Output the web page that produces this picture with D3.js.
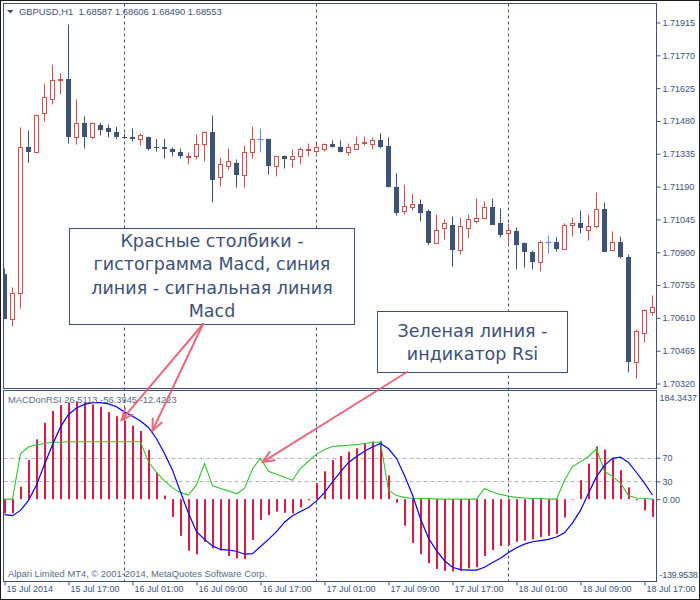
<!DOCTYPE html>
<html><head><meta charset="utf-8">
<script src="https://cdn.jsdelivr.net/npm/d3@7"></script>
<style>body{margin:0;background:#fff;} svg{display:block}</style>
</head><body><svg id="chart" width="700" height="600"></svg>
<script>
// ---------- DATA ----------
const symbolHeader = "GBPUSD,H1  1.68587 1.68606 1.68490 1.68553";
const indicatorHeader = "MACDonRSI 26.5113 -56.3945 -12.4223";
const copyrightText = "Alpari Limited MT4, © 2001-2014, MetaQuotes Software Corp.";

const timeTickIndex = [0, 8, 16, 24, 32, 40, 48, 56, 64, 72, 80];
const timeTickLabels = ["15 Jul 2014", "15 Jul 17:00", "16 Jul 01:00", "16 Jul 09:00", "16 Jul 17:00",
  "17 Jul 01:00", "17 Jul 09:00", "17 Jul 17:00", "18 Jul 01:00", "18 Jul 09:00", "18 Jul 17:00"];
const daySeparatorIndex = [15, 39, 63];

const priceTicks = [1.70320, 1.70465, 1.70610, 1.70755, 1.70900, 1.71045, 1.71190, 1.71335, 1.71480, 1.71625, 1.71770, 1.71915];
const indTicks = [184.3437, 70, 30, 0, -139.9538];
const indTickLabels = ["184.3437", "70", "30", "0.00", "-139.9538"];
const indLevels = [70, 30];

const open = [
  1.70806,1.70607,1.70722,1.71367,1.71341,1.71513,1.71579,1.71659,1.71667,1.71407,
  1.71469,1.71407,1.71464,1.71447,1.71433,1.71411,1.71411,1.71400,1.71411,1.71367,
  1.71367,1.71358,1.71345,1.71321,1.71327,1.71376,1.71433,1.71231,1.71283,1.71296,
  1.71243,1.71341,1.71402,1.71402,1.71283,1.71323,1.71314,1.71323,1.71352,1.71349,
  1.71358,1.71380,1.71367,1.71345,1.71358,1.71382,1.71380,1.71394,1.71371,1.71186,
  1.71084,1.71102,1.71115,1.71080,1.70939,1.71005,1.71022,1.70908,1.71009,1.71040,
  1.71053,1.71102,1.71027,1.70983,1.70992,1.70939,1.70903,1.70855,1.70947,1.70947,
  1.70916,1.71022,1.71027,1.71000,1.71014,1.71089,1.70912,1.70943,1.70881,1.70413,
  1.70545,1.70638];
const high = [
  1.70828,1.70744,1.71451,1.71438,1.71508,1.71645,1.71729,1.71690,1.71906,1.71575,
  1.71500,1.71473,1.71473,1.71464,1.71455,1.71425,1.71447,1.71425,1.71411,1.71400,
  1.71400,1.71363,1.71358,1.71341,1.71420,1.71433,1.71504,1.71318,1.71358,1.71310,
  1.71371,1.71455,1.71447,1.71402,1.71323,1.71327,1.71354,1.71363,1.71380,1.71380,
  1.71380,1.71394,1.71394,1.71380,1.71411,1.71411,1.71407,1.71425,1.71407,1.71248,
  1.71199,1.71159,1.71133,1.71089,1.71066,1.71045,1.71058,1.71053,1.71066,1.71137,
  1.71124,1.71137,1.71093,1.71027,1.71009,1.70943,1.70908,1.70952,1.70974,1.70965,
  1.71027,1.71053,1.71084,1.71066,1.71164,1.71120,1.70992,1.70969,1.70890,1.70559,
  1.70647,1.70709];
const low = [
  1.70607,1.70572,1.70651,1.71296,1.71336,1.71478,1.71553,1.71597,1.71380,1.71376,
  1.71358,1.71400,1.71416,1.71407,1.71400,1.71400,1.71389,1.71371,1.71349,1.71345,
  1.71314,1.71323,1.71314,1.71288,1.71310,1.71301,1.71120,1.71190,1.71265,1.71186,
  1.71186,1.71314,1.71341,1.71243,1.71235,1.71270,1.71274,1.71288,1.71323,1.71332,
  1.71345,1.71363,1.71341,1.71327,1.71354,1.71371,1.71354,1.71358,1.71186,1.71062,
  1.71066,1.71084,1.71036,1.70930,1.70939,1.70956,1.70837,1.70890,1.70961,1.71027,
  1.71049,1.71022,1.70965,1.70939,1.70824,1.70832,1.70824,1.70815,1.70894,1.70903,
  1.70912,1.70969,1.70983,1.70952,1.71005,1.70903,1.70908,1.70872,1.70369,1.70342,
  1.70501,1.70620];
const close = [
  1.70607,1.70722,1.71363,1.71341,1.71508,1.71584,1.71659,1.71667,1.71411,1.71469,
  1.71407,1.71469,1.71442,1.71429,1.71407,1.71407,1.71400,1.71420,1.71358,1.71363,
  1.71354,1.71341,1.71327,1.71325,1.71376,1.71433,1.71221,1.71288,1.71301,1.71243,
  1.71345,1.71402,1.71402,1.71283,1.71323,1.71314,1.71327,1.71354,1.71356,1.71367,
  1.71380,1.71367,1.71345,1.71363,1.71380,1.71387,1.71394,1.71367,1.71186,1.71075,
  1.71106,1.71111,1.71075,1.70939,1.71000,1.71027,1.70912,1.71014,1.71045,1.71053,
  1.71102,1.71022,1.70978,1.70996,1.70934,1.70903,1.70855,1.70947,1.70947,1.70916,
  1.71022,1.71031,1.71005,1.71018,1.71089,1.70903,1.70947,1.70877,1.70413,1.70554,
  1.70643,1.70660];

const macdHist = [
  -24,-24,21,66,101,129,149,159,163,165,
  163,160,156,147,140,133,124,115,83,45,
  6,-30,-62,-87,-93,-72,-83,-87,-96,-100,
  -101,-69,-35,-27,-21,-23,-24,-14,-2,27,
  47,66,73,80,86,94,97,98,40,-6,
  -45,-74,-93,-108,-118,-121,-122,-121,-117,-115,
  -96,-86,-79,-78,-72,-70,-68,-64,-62,-59,
  -31,-1,32,60,89,84,70,49,20,-2,
  -19,-30];
const macdSignal = [
  -26,-28,-19,-2,24,59,92,122,143,154,
  160,163,163,161,156,147,140,132,121,102,
  77,49,12,-24,-55,-68,-79,-85,-86,-88,
  -93,-92,-80,-68,-55,-39,-28,-21,-14,-3,
  11,29,46,62,72,81,88,94,85,69,
  40,7,-33,-66,-87,-104,-115,-119,-120,-120,
  -115,-107,-100,-90,-82,-76,-72,-70,-68,-64,
  -57,-40,-19,10,38,57,69,71,62,45,
  27,7];
const rsiLine = [
  0,0,77,88,92,94,96,96,97,97,
  97,97,97,97,97,97,97,97,63,45,
  31,19,11,7,24,60,23,18,14,9,
  18,51,69,47,42,37,32,52,64,76,
  84,89,90,91,92,94,96,96,15,6,
  3,1,1,1,0,0,0,0,0,0,
  18,12,8,5,3,2,1,1,0,0,
  32,55,63,72,85,47,38,27,6,2,
  1,0];

const noteMacd = ["Красные столбики -", "гистограмма Macd, синия", "линия - сигнальная линия", "Macd"];
const noteRsi = ["Зеленая линия -", "индикатор Rsi"];

// ---------- STYLE / LAYOUT ----------
const C = {
  dark: "#3d5278", red: "#d64d4d", doji: "#5b8ef0", text: "#3c5179",
  hist: "#e8173f", signal: "#0000ff", rsi: "#2ec52e", level: "#b4b4b4",
  arrow: "#e85a6e"
};
const axisFont = "'Liberation Sans', Arial, sans-serif";
const axisSize = "9px";
const L = { left: 3.5, right: 656.5, mainTop: 3.5, mainBottom: 388.5, indTop: 390.5, indBottom: 581.5 };

const svg = d3.select("#chart");
svg.append("rect").attr("x", 0).attr("y", 0).attr("width", 700).attr("height", 600).attr("fill", "#fff");

const x = d3.scaleLinear().domain([0, 81]).range([4.5, 652.5]);
const y = d3.scaleLinear().domain([1.70320, 1.71915]).range([383.5, 22.5]);
const y2 = d3.scaleLinear().domain([-139.9538, 184.3437]).range([582, 390]);

const defs = svg.append("defs");
defs.append("clipPath").attr("id", "clipMain").append("rect")
  .attr("x", L.left).attr("y", L.mainTop).attr("width", L.right - L.left).attr("height", L.mainBottom - L.mainTop);
defs.append("clipPath").attr("id", "clipInd").append("rect")
  .attr("x", L.left).attr("y", L.indTop).attr("width", L.right - L.left).attr("height", L.indBottom - L.indTop);

// day separators
svg.append("g").selectAll("line").data(daySeparatorIndex).join("line")
  .attr("x1", d => x(d)).attr("x2", d => x(d))
  .attr("y1", L.mainTop).attr("y2", L.indBottom)
  .attr("stroke", C.dark).attr("stroke-width", 1).attr("stroke-dasharray", "3,3");

// ---------- CANDLES ----------
const idx = d3.range(open.length);
const gMain = svg.append("g").attr("clip-path", "url(#clipMain)");
idx.forEach(i => {
  const o = open[i], c = close[i], h = high[i], l = low[i];
  const cx = x(i);
  const col = c > o ? C.red : (c < o ? C.dark : C.doji);
  gMain.append("line").attr("x1", cx).attr("x2", cx).attr("y1", y(h)).attr("y2", y(l))
    .attr("stroke", col).attr("stroke-width", 1);
  const top = y(Math.max(o, c)), bot = y(Math.min(o, c));
  if (c > o) {
    gMain.append("rect").attr("x", cx - 2).attr("y", Math.round(top) + 0.5).attr("width", 4)
      .attr("height", Math.max(1, Math.round(bot) - Math.round(top)))
      .attr("fill", "#fff").attr("stroke", col).attr("stroke-width", 1);
  } else if (c < o) {
    gMain.append("rect").attr("x", cx - 2.5).attr("y", Math.round(top)).attr("width", 5)
      .attr("height", Math.max(1, Math.round(bot) - Math.round(top)))
      .attr("fill", col);
  } else {
    gMain.append("line").attr("x1", cx - 3).attr("x2", cx + 3).attr("y1", Math.round(top) + 0.5).attr("y2", Math.round(top) + 0.5)
      .attr("stroke", col).attr("stroke-width", 1);
  }
});

// ---------- INDICATOR ----------
const gInd = svg.append("g").attr("clip-path", "url(#clipInd)");
gInd.selectAll("line.lvl").data(indLevels).join("line").attr("class", "lvl")
  .attr("x1", L.left).attr("x2", L.right)
  .attr("y1", d => Math.round(y2(d)) + 0.5).attr("y2", d => Math.round(y2(d)) + 0.5)
  .attr("stroke", C.level).attr("stroke-dasharray", "4,3");
gInd.selectAll("rect.hist").data(idx).join("rect").attr("class", "hist")
  .attr("x", i => x(i) - 0.5).attr("width", 2)
  .attr("y", i => Math.min(y2(0), y2(macdHist[i])))
  .attr("height", i => Math.abs(y2(macdHist[i]) - y2(0)))
  .attr("fill", C.hist);
gInd.append("path").datum(idx)
  .attr("d", d3.line().x(i => x(i)).y(i => y2(rsiLine[i])))
  .attr("fill", "none").attr("stroke", C.rsi).attr("stroke-width", 1.1);
gInd.append("path").datum(idx)
  .attr("d", d3.line().x(i => x(i)).y(i => y2(macdSignal[i])))
  .attr("fill", "none").attr("stroke", C.signal).attr("stroke-width", 1.2);

// ---------- FRAMES ----------
svg.append("rect").attr("x", 0.5).attr("y", 0.5).attr("width", 699).attr("height", 599)
  .attr("fill", "none").attr("stroke", "#1a1a1a");
[[L.mainTop, L.mainBottom], [L.indTop, L.indBottom]].forEach(([t, b]) => {
  svg.append("rect").attr("x", L.left).attr("y", t).attr("width", L.right - L.left).attr("height", b - t)
    .attr("fill", "none").attr("stroke", C.dark).attr("stroke-width", 1);
});

// ---------- AXES ----------
function styleAxis(g) {
  g.select(".domain").remove();
  g.selectAll("line").attr("stroke", C.dark);
  g.selectAll("text").attr("fill", C.text).style("font-family", axisFont).style("font-size", axisSize);
}
const yAxis = svg.append("g").attr("transform", `translate(${L.right},0)`)
  .call(d3.axisRight(y).tickValues(priceTicks).tickFormat(d3.format(".5f")).tickSize(4).tickPadding(2));
styleAxis(yAxis);

const y2Axis = svg.append("g").attr("transform", `translate(${L.right},0)`)
  .call(d3.axisRight(y2).tickValues(indTicks).tickFormat((d, i) => indTickLabels[i]).tickSize(4).tickPadding(2));
styleAxis(y2Axis);
y2Axis.selectAll(".tick").each(function (d, i) {
  const t = d3.select(this);
  if (i === 0 || i === indTicks.length - 1) {
    t.select("line").remove();
    t.select("text").attr("dy", i === 0 ? "1.2em" : "-0.55em").attr("x", 3)
      .style("letter-spacing", i === 0 ? "0px" : "-0.3px");
  }
});

const xAxis = svg.append("g").attr("transform", `translate(0,${L.indBottom})`)
  .call(d3.axisBottom(x).tickValues(timeTickIndex).tickFormat((d, i) => timeTickLabels[i]).tickSize(4));
styleAxis(xAxis);
xAxis.selectAll("text").attr("text-anchor", "start").attr("x", 1.5).attr("y", 4.5);

// ---------- HEADERS ----------
svg.append("path").attr("d", "M7,10 L13.5,10 L10.25,13.5 Z").attr("fill", C.text);
svg.append("text").attr("x", 19).attr("y", 15).text(symbolHeader)
  .attr("fill", C.text).style("font-family", axisFont).style("font-size", "9.4px").style("white-space", "pre");
svg.append("text").attr("x", 8).attr("y", 403).text(indicatorHeader)
  .attr("fill", "#5a6a86").style("font-family", axisFont).style("font-size", "9.4px");
svg.append("text").attr("x", 8).attr("y", 577).text(copyrightText)
  .attr("fill", "#5a6a86").style("font-family", axisFont).style("font-size", "9.4px");

// ---------- ANNOTATIONS ----------
const noteFont = "'DejaVu Sans', Verdana, sans-serif";
function noteBox(x0, y0, w, h, lines, baseline0, step) {
  svg.append("rect").attr("x", x0).attr("y", y0).attr("width", w).attr("height", h)
    .attr("fill", "#fff").attr("stroke", C.dark).attr("stroke-width", 1);
  svg.append("g").selectAll("text").data(lines).join("text")
    .attr("x", x0 + w / 2).attr("y", (d, i) => baseline0 + i * step)
    .attr("text-anchor", "middle").attr("fill", C.text)
    .style("font-family", noteFont).style("font-size", "17.5px").text(d => d);
}
function arrow(x1, y1, x2, y2p) {
  const g = svg.append("g").attr("stroke", C.arrow).attr("stroke-width", 2).attr("fill", "none")
    .attr("stroke-linecap", "round").attr("opacity", 0.9);
  g.append("line").attr("x1", x1).attr("y1", y1).attr("x2", x2).attr("y2", y2p);
  const a = Math.atan2(y2p - y1, x2 - x1), len = 12, sp = 0.42;
  g.append("path").attr("d",
    `M${x2 - len * Math.cos(a - sp)},${y2p - len * Math.sin(a - sp)} L${x2},${y2p} L${x2 - len * Math.cos(a + sp)},${y2p - len * Math.sin(a + sp)}`);
}
noteBox(69.5, 228.5, 285, 96, noteMacd, 247, 23.3);
noteBox(377.5, 311.5, 190, 61, noteRsi, 336.5, 23.5);
arrow(203, 324, x(14.65), y2(134));
arrow(203, 324, x(18.5), y2(116));
arrow(407, 372, x(32.3), y2(63));
</script></body></html>
